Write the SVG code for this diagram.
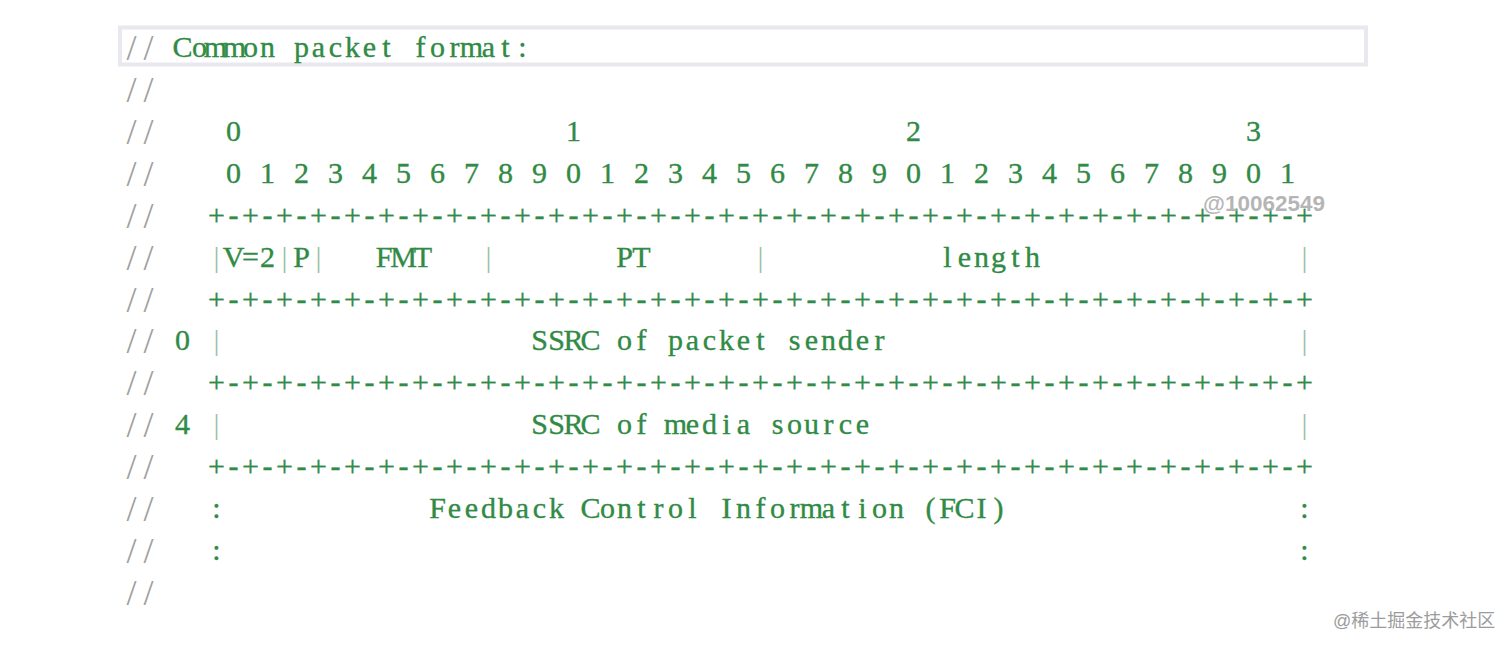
<svg xmlns="http://www.w3.org/2000/svg" width="1512" height="650" viewBox="0 0 1512 650">
<style>
.c{font-family:"Liberation Serif","Times New Roman",serif;font-size:30px;fill:#318a45;stroke:#318a45;stroke-width:0.35;text-anchor:middle}
.s{font-family:"Liberation Serif","Times New Roman",serif;font-size:36px;fill:#a0a0a0;text-anchor:middle}
.b{font-family:"Liberation Serif","Times New Roman",serif;font-size:30px;fill:#9cc0a4;text-anchor:middle}
.wm{font-family:"Liberation Sans",Arial,sans-serif;font-size:22.5px;font-weight:bold;fill:#a8a8a8;fill-opacity:0.85}
.wm2{font-family:"Liberation Sans","Noto Sans CJK SC",sans-serif;font-size:18px;fill:#9c9c9c}
</style>
<rect width="1512" height="650" fill="#ffffff"/>
<rect id="highlight" x="120" y="27.5" width="1246" height="37" fill="#ffffff" stroke="#e8e8ee" stroke-width="4"/>

<g id="slashes">
<text class="s" x="131.5 148.5" y="60">//</text>
<text class="s" x="131.5 148.5" y="101.9">//</text>
<text class="s" x="131.5 148.5" y="143.8">//</text>
<text class="s" x="131.5 148.5" y="185.8">//</text>
<text class="s" x="131.5 148.5" y="227.7">//</text>
<text class="s" x="131.5 148.5" y="269.6">//</text>
<text class="s" x="131.5 148.5" y="311.5">//</text>
<text class="s" x="131.5 148.5" y="353.4">//</text>
<text class="s" x="131.5 148.5" y="395.4">//</text>
<text class="s" x="131.5 148.5" y="437.3">//</text>
<text class="s" x="131.5 148.5" y="479.2">//</text>
<text class="s" x="131.5 148.5" y="521.1">//</text>
<text class="s" x="131.5 148.5" y="563">//</text>
<text class="s" x="131.5 148.5" y="605">//</text>
</g>

<g id="title">
<text class="c" y="57" x="182.5 199.5 215.5 234.5 250.5 267.5 284.5 301.5 318.5 335.5 352.5 369.5 386.5 403.5 420.5 437.5 454.5 471.5 488.5 505.5 522.5">Common packet format:</text>
</g>

<g id="bit-header">
<text class="c" y="140.8" x="233.5 403.5 573.5 743.5 913.5 1083.5 1253.5">0 1 2 3</text>
<text class="c" y="182.8" x="233.5 250.5 267.5 284.5 301.5 318.5 335.5 352.5 369.5 386.5 403.5 420.5 437.5 454.5 471.5 488.5 505.5 522.5 539.5 556.5 573.5 590.5 607.5 624.5 641.5 658.5 675.5 692.5 709.5 726.5 743.5 760.5 777.5 794.5 811.5 828.5 845.5 862.5 879.5 896.5 913.5 930.5 947.5 964.5 981.5 998.5 1015.5 1032.5 1049.5 1066.5 1083.5 1100.5 1117.5 1134.5 1151.5 1168.5 1185.5 1202.5 1219.5 1236.5 1253.5 1270.5 1287.5">0 1 2 3 4 5 6 7 8 9 0 1 2 3 4 5 6 7 8 9 0 1 2 3 4 5 6 7 8 9 0 1</text>
</g>

<g id="separators">
<text class="c" y="224.7" x="216.5 233.5 250.5 267.5 284.5 301.5 318.5 335.5 352.5 369.5 386.5 403.5 420.5 437.5 454.5 471.5 488.5 505.5 522.5 539.5 556.5 573.5 590.5 607.5 624.5 641.5 658.5 675.5 692.5 709.5 726.5 743.5 760.5 777.5 794.5 811.5 828.5 845.5 862.5 879.5 896.5 913.5 930.5 947.5 964.5 981.5 998.5 1015.5 1032.5 1049.5 1066.5 1083.5 1100.5 1117.5 1134.5 1151.5 1168.5 1185.5 1202.5 1219.5 1236.5 1253.5 1270.5 1287.5 1304.5">+-+-+-+-+-+-+-+-+-+-+-+-+-+-+-+-+-+-+-+-+-+-+-+-+-+-+-+-+-+-+-+-+</text>
<text class="c" y="308.5" x="216.5 233.5 250.5 267.5 284.5 301.5 318.5 335.5 352.5 369.5 386.5 403.5 420.5 437.5 454.5 471.5 488.5 505.5 522.5 539.5 556.5 573.5 590.5 607.5 624.5 641.5 658.5 675.5 692.5 709.5 726.5 743.5 760.5 777.5 794.5 811.5 828.5 845.5 862.5 879.5 896.5 913.5 930.5 947.5 964.5 981.5 998.5 1015.5 1032.5 1049.5 1066.5 1083.5 1100.5 1117.5 1134.5 1151.5 1168.5 1185.5 1202.5 1219.5 1236.5 1253.5 1270.5 1287.5 1304.5">+-+-+-+-+-+-+-+-+-+-+-+-+-+-+-+-+-+-+-+-+-+-+-+-+-+-+-+-+-+-+-+-+</text>
<text class="c" y="392.4" x="216.5 233.5 250.5 267.5 284.5 301.5 318.5 335.5 352.5 369.5 386.5 403.5 420.5 437.5 454.5 471.5 488.5 505.5 522.5 539.5 556.5 573.5 590.5 607.5 624.5 641.5 658.5 675.5 692.5 709.5 726.5 743.5 760.5 777.5 794.5 811.5 828.5 845.5 862.5 879.5 896.5 913.5 930.5 947.5 964.5 981.5 998.5 1015.5 1032.5 1049.5 1066.5 1083.5 1100.5 1117.5 1134.5 1151.5 1168.5 1185.5 1202.5 1219.5 1236.5 1253.5 1270.5 1287.5 1304.5">+-+-+-+-+-+-+-+-+-+-+-+-+-+-+-+-+-+-+-+-+-+-+-+-+-+-+-+-+-+-+-+-+</text>
<text class="c" y="476.2" x="216.5 233.5 250.5 267.5 284.5 301.5 318.5 335.5 352.5 369.5 386.5 403.5 420.5 437.5 454.5 471.5 488.5 505.5 522.5 539.5 556.5 573.5 590.5 607.5 624.5 641.5 658.5 675.5 692.5 709.5 726.5 743.5 760.5 777.5 794.5 811.5 828.5 845.5 862.5 879.5 896.5 913.5 930.5 947.5 964.5 981.5 998.5 1015.5 1032.5 1049.5 1066.5 1083.5 1100.5 1117.5 1134.5 1151.5 1168.5 1185.5 1202.5 1219.5 1236.5 1253.5 1270.5 1287.5 1304.5">+-+-+-+-+-+-+-+-+-+-+-+-+-+-+-+-+-+-+-+-+-+-+-+-+-+-+-+-+-+-+-+-+</text>
</g>

<g id="row-header">
<text class="b" y="266.6" x="216.5">|</text>
<text class="c" y="266.6" x="233.5 250.5 267.5">V=2</text>
<text class="b" y="266.6" x="284.5">|</text>
<text class="c" y="266.6" x="301.5">P</text>
<text class="b" y="266.6" x="318.5">|</text>
<text class="c" y="266.6" x="384 403.5 423">FMT</text>
<text class="b" y="266.6" x="488.5">|</text>
<text class="c" y="266.6" x="624.5 641.5">PT</text>
<text class="b" y="266.6" x="760.5">|</text>
<text class="c" y="266.6" x="947.5 964.5 981.5 998.5 1015.5 1032.5">length</text>
<text class="b" y="266.6" x="1304.5">|</text>
</g>

<g id="row-sender">
<text class="c" y="350.4" x="182.5">0</text>
<text class="b" y="350.4" x="216.5">|</text>
<text class="c" y="350.4" x="539.5 556.5 573.5 590.5 607.5 624.5 641.5 658.5 675.5 692.5 709.5 726.5 743.5 760.5 777.5 794.5 811.5 828.5 845.5 862.5 879.5">SSRC of packet sender</text>
<text class="b" y="350.4" x="1304.5">|</text>
</g>

<g id="row-media">
<text class="c" y="434.3" x="182.5">4</text>
<text class="b" y="434.3" x="216.5">|</text>
<text class="c" y="434.3" x="539.5 556.5 573.5 590.5 607.5 624.5 641.5 658.5 675.5 692.5 709.5 726.5 743.5 760.5 777.5 794.5 811.5 828.5 845.5 862.5">SSRC of media source</text>
<text class="b" y="434.3" x="1304.5">|</text>
</g>

<g id="row-fci">
<text class="c" y="518.1" x="216.5">:</text>
<text class="c" y="518.1" x="437.5 454.5 471.5 488.5 505.5 522.5 539.5 556.5 573.5 590.5 607.5 624.5 641.5 658.5 675.5 692.5 709.5 726.5 743.5 760.5 777.5 794.5 811.5 828.5 845.5 862.5 879.5 896.5 913.5 930.5 947.5 964.5 981.5 998.5">Feedback Control Information (FCI)</text>
<text class="c" y="518.1" x="1304.5">:</text>
<text class="c" y="560" x="216.5">:</text>
<text class="c" y="560" x="1304.5">:</text>
</g>

<text class="wm" x="1203" y="211">@10062549</text>
<text class="wm2" x="1333" y="627">@稀土掘金技术社区</text>
</svg>
